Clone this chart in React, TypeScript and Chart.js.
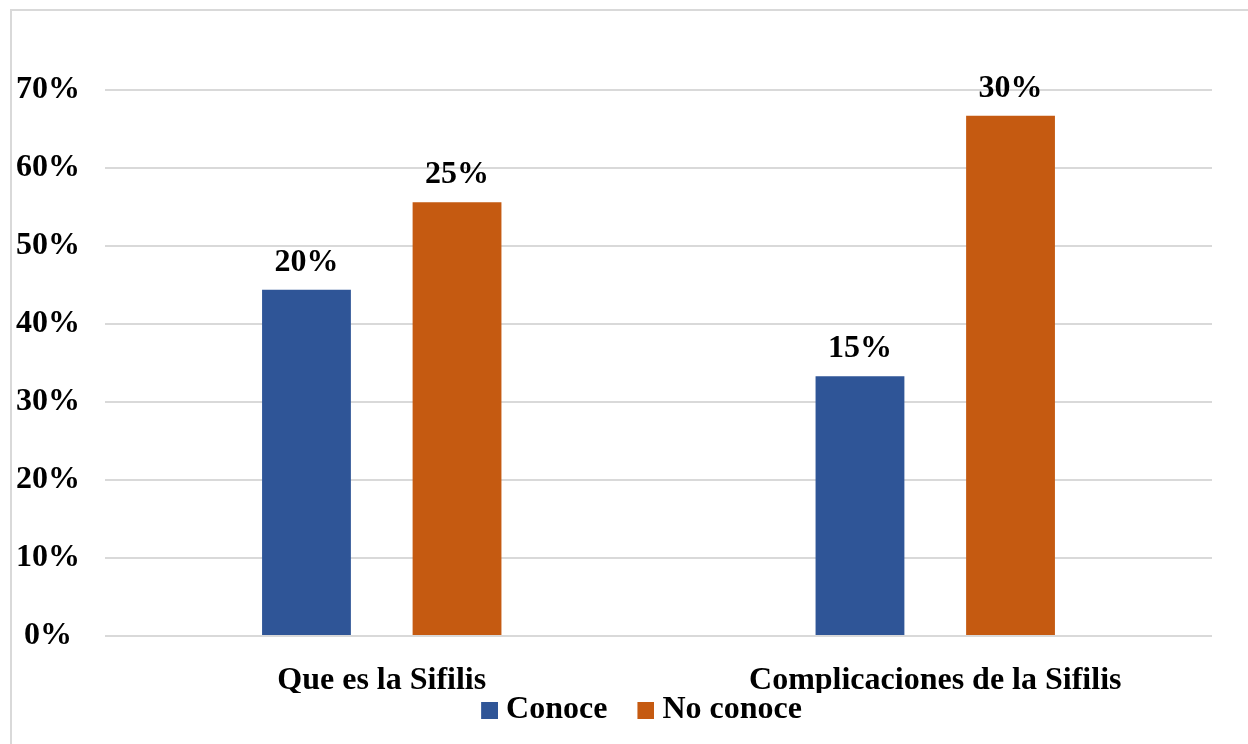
import React, { useEffect, useRef } from "react";
import { Chart, registerables } from "chart.js";

Chart.register(...registerables);

const categories = ["Que es la Sifilis", "Complicaciones de la Sifilis"];
const seriesNames = ["Conoce", "No conoce"];
const conoceValues = [0.444, 0.333];
const noConoceValues = [0.556, 0.667];
const conoceLabels = ["20%", "15%"];
const noConoceLabels = ["25%", "30%"];
const seriesColors = ["#2F5597", "#C55A11"];
const yMin = 0;
const yMax = 0.7;
const yStep = 0.1;

const FONT = "'Liberation Serif', 'Times New Roman', serif";
const FONT_SIZE = 32;
const LEGEND_PAD = 37;
const LEGEND_SHIFT_Y = 36;
const LEGEND_SHIFT_X = 39;

function makeSwatch(color: string) {
  const c = document.createElement("canvas");
  c.width = 18;
  c.height = 17;
  const g = c.getContext("2d")!;
  g.fillStyle = color;
  g.fillRect(1, 0, 17, 17);
  return c;
}

const valueLabelPlugin = {
  id: "valueLabels",
  afterDatasetsDraw(chart: any) {
    const ctx = chart.ctx;
    const all = [conoceLabels, noConoceLabels];
    ctx.save();
    ctx.font = `bold ${FONT_SIZE}px ${FONT}`;
    ctx.fillStyle = "#000";
    ctx.textAlign = "center";
    ctx.textBaseline = "alphabetic";
    chart.data.datasets.forEach((_ds: any, i: number) => {
      const meta = chart.getDatasetMeta(i);
      meta.data.forEach((bar: any, j: number) => {
        ctx.fillText(all[i][j], bar.x, bar.y - 19);
      });
    });
    ctx.restore();
  },
};

const legendShiftPlugin = {
  id: "legendShift",
  afterLayout(chart: any) {
    const lg = chart.legend;
    if (!lg) return;
    lg.top -= LEGEND_SHIFT_Y;
    lg.bottom -= LEGEND_SHIFT_Y;
    lg.left += LEGEND_SHIFT_X;
    lg.right += LEGEND_SHIFT_X;
  },
};

export default function App() {
  const ref = useRef<HTMLCanvasElement | null>(null);

  useEffect(() => {
    if (!ref.current) return;
    const swatches = seriesColors.map(makeSwatch);
    const chart = new Chart(ref.current, {
      type: "bar",
      data: {
        labels: categories,
        datasets: [
          {
            label: seriesNames[0],
            data: conoceValues,
            backgroundColor: seriesColors[0],
            categoryPercentage: 0.544,
            barPercentage: 0.59,
          },
          {
            label: seriesNames[1],
            data: noConoceValues,
            backgroundColor: seriesColors[1],
            categoryPercentage: 0.544,
            barPercentage: 0.59,
          },
        ],
      },
      options: {
        responsive: false,
        animation: false,
        layout: { padding: { top: 90, right: 36, left: 0, bottom: 0 } },
        plugins: {
          legend: {
            position: "bottom",
            labels: {
              color: "#000",
              font: { family: FONT, size: FONT_SIZE, weight: "bold" },
              usePointStyle: true,
              pointStyleWidth: 2,
              boxHeight: 17,
              padding: LEGEND_PAD,
              generateLabels: (chart: any) =>
                chart.data.datasets.map((ds: any, i: number) => ({
                  text: ds.label,
                  fillStyle: seriesColors[i],
                  strokeStyle: seriesColors[i],
                  lineWidth: 0,
                  pointStyle: swatches[i],
                  hidden: false,
                  datasetIndex: i,
                  fontColor: "#000",
                })),
            },
          },
          tooltip: { enabled: false },
        },
        scales: {
          x: {
            grid: { display: false },
            border: { display: false },
            ticks: {
              color: "#000",
              padding: 18,
              font: { family: FONT, size: FONT_SIZE, weight: "bold" },
            },
            afterFit(scale: any) {
              scale.height = 57;
            },
          },
          y: {
            min: yMin,
            max: yMax,
            grid: { color: "#d9d9d9", lineWidth: 2, drawTicks: false },
            border: { display: false },
            ticks: {
              stepSize: yStep,
              color: "#000",
              padding: 25,
              crossAlign: "center",
              font: { family: FONT, size: FONT_SIZE, weight: "bold" },
              callback: (v: any) => Math.round(Number(v) * 100) + "%",
            },
            afterFit(scale: any) {
              scale.width = 105;
            },
          },
        },
      },
      plugins: [valueLabelPlugin, legendShiftPlugin],
    });
    return () => chart.destroy();
  }, []);

  return (
    <div style={{ position: "fixed", left: 0, top: 0, width: 1248, height: 744, background: "#fff", overflow: "hidden" }}>
      <div
        style={{
          position: "absolute",
          left: 10,
          top: 9,
          right: 0,
          bottom: 0,
          borderLeft: "2px solid #d9d9d9",
          borderTop: "2px solid #d9d9d9",
        }}
      />
      <canvas ref={ref} width={1248} height={772} style={{ position: "absolute", left: 0, top: 0 }} />
    </div>
  );
}
